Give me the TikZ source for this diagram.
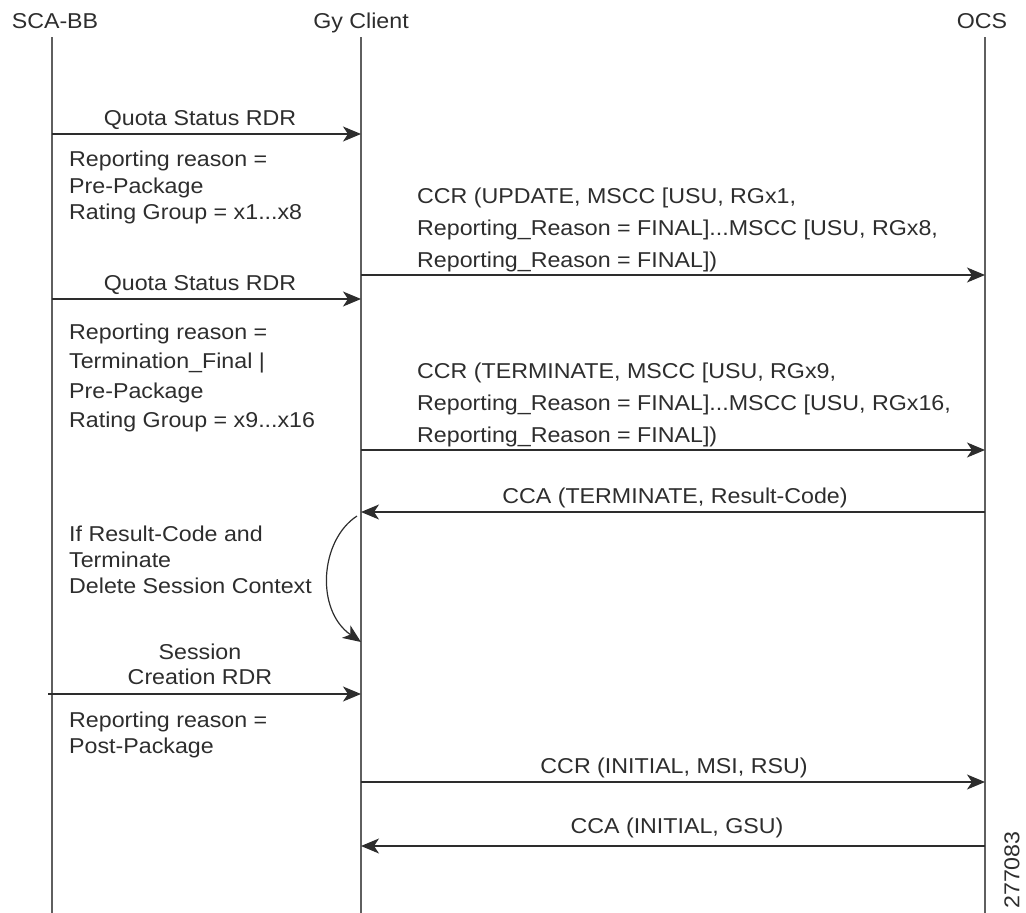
\documentclass[tikz,border=0pt]{standalone}
\usepackage{fontspec}
\setmainfont[FakeStretch=1.08]{Liberation Sans}
\usetikzlibrary{arrows.meta}
\definecolor{ink}{RGB}{45,45,45}
\definecolor{life}{RGB}{95,95,95}
\begin{document}
\begin{tikzpicture}[x=1pt,y=-1pt,
  every node/.style={text=ink,inner sep=0pt,font=\fontsize{21.5}{26.5}\selectfont},
  lifeline/.style={draw=life,line width=1.1pt},
  msg/.style={draw=ink,line width=1.2pt,-{Stealth[length=18pt,width=15pt,inset=5pt]}},
  lbl/.style={anchor=base},
  blk/.style={anchor=base west,align=left},
  wide/.style={font=\fontsize{21.5}{32}\selectfont}]
\useasboundingbox (0,0) rectangle (1026,913);
% headers
\node[lbl] (hA) at (55,28) {SCA-BB};
\node[lbl] (hG) at (361,28) {Gy Client};
\node[lbl] (hO) at (982,28) {OCS};
% lifelines
\coordinate (A0) at (52,37);  \coordinate (A1) at (52,913);
\coordinate (G0) at (361,37); \coordinate (G1) at (361,913);
\coordinate (O0) at (985,37); \coordinate (O1) at (985,913);
\draw[lifeline] (A0) -- (A1);
\draw[lifeline] (G0) -- (G1);
\draw[lifeline] (O0) -- (O1);
% message end points
\coordinate (a1) at (52,134);  \coordinate (g1) at (361,134);
\coordinate (g2) at (361,275); \coordinate (o2) at (985,275);
\coordinate (a3) at (52,299);  \coordinate (g3) at (361,299);
\coordinate (g4) at (361,450); \coordinate (o4) at (985,450);
\coordinate (o5) at (985,512); \coordinate (g5) at (361,512);
\coordinate (c0) at (357,516); \coordinate (c1) at (361,642);
\coordinate (a7) at (48,694);  \coordinate (g7) at (361,694);
\coordinate (g8) at (361,782); \coordinate (o8) at (985,782);
\coordinate (o9) at (985,846); \coordinate (g9) at (361,846);
% messages
\draw[msg] (a1) -- (g1);
\draw[msg] (g2) -- (o2);
\draw[msg] (a3) -- (g3);
\draw[msg] (g4) -- (o4);
\draw[msg] (o5) -- (g5);
\draw[msg] (c0) .. controls (320,540) and (315,610) .. (c1);
\draw[msg] (a7) -- (g7);
\draw[msg] (g8) -- (o8);
\draw[msg] (o9) -- (g9);
% labels (base anchor of a multi-line node = baseline of its last line)
\node[lbl] (m1) at (200,125) {Quota Status RDR};
\node[blk] (n1) at (69,219.5) {Reporting reason =\\Pre-Package\\Rating Group = x1...x8};
\node[blk,wide] (m2) at (417,267.5) {CCR (UPDATE, MSCC [USU, RGx1,\\Reporting\_Reason = FINAL]...MSCC [USU, RGx8,\\Reporting\_Reason = FINAL])};
\node[lbl] (m3) at (200,290) {Quota Status RDR};
\node[blk,font=\fontsize{21.5}{29.3}\selectfont] (n3) at (69,427.4) {Reporting reason =\\Termination\_Final |\\Pre-Package\\Rating Group = x9...x16};
\node[blk,wide] (m4) at (417,442) {CCR (TERMINATE, MSCC [USU, RGx9,\\Reporting\_Reason = FINAL]...MSCC [USU, RGx16,\\Reporting\_Reason = FINAL])};
\node[lbl] (m5) at (675,503) {CCA (TERMINATE, Result-Code)};
\node[blk,font=\fontsize{21.5}{26}\selectfont] (n5) at (69,593.5) {If Result-Code and\\Terminate\\Delete Session Context};
\node[lbl,align=center,font=\fontsize{21.5}{25.5}\selectfont] (m7) at (200,684.5) {Session\\Creation RDR};
\node[blk,font=\fontsize{21.5}{26}\selectfont] (n7) at (69,753.5) {Reporting reason =\\Post-Package};
\node[lbl] (m8) at (674,773) {CCR (INITIAL, MSI, RSU)};
\node[lbl] (m9) at (677,833) {CCA (INITIAL, GSU)};
\node[rotate=90] (id) at (1012,870) {277083};
\end{tikzpicture}
\end{document}
